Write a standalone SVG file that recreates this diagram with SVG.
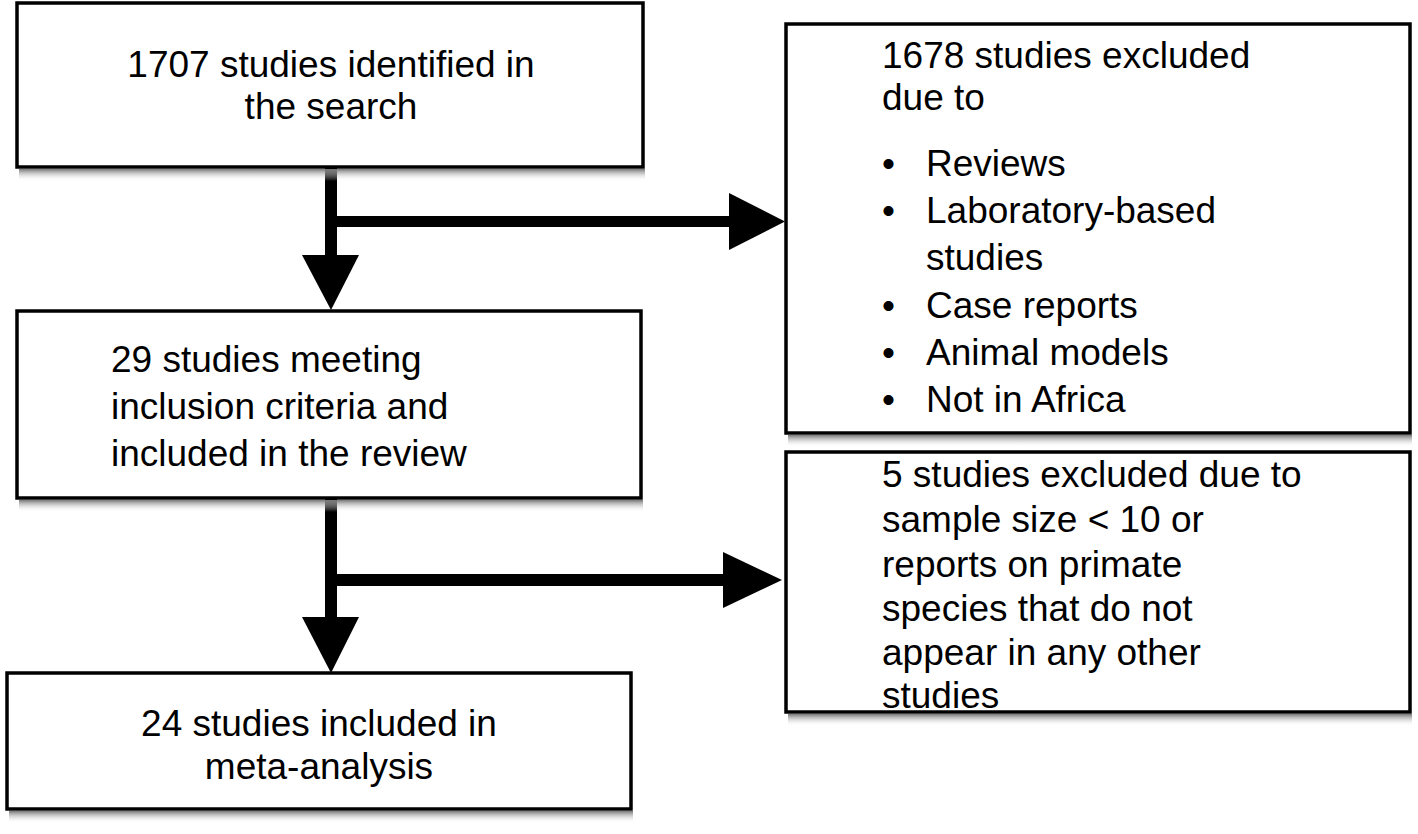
<svg xmlns="http://www.w3.org/2000/svg" width="1418" height="834" viewBox="0 0 1418 834">
<defs>
<linearGradient id="sg" x1="0" y1="0" x2="0" y2="1">
<stop offset="0" stop-color="#777"/>
<stop offset="1" stop-color="#fff" stop-opacity="0"/>
</linearGradient>
</defs>
<style>
.box{fill:#fff;stroke:#000;stroke-width:3.5}
.sh{fill:url(#sg);stroke:none}
.t{font-family:"Liberation Sans",Arial,sans-serif;font-size:37px;fill:#000}
.c{text-anchor:middle}
.ar{fill:#000;stroke:none}
</style>
<g id="connectors">
<rect class="ar" x="325" y="167" width="12" height="90"/>
<polygon class="ar" points="302,255 359,255 331,310"/>
<rect class="ar" x="337" y="216" width="394" height="11"/>
<polygon class="ar" points="729,193 729,250 785,221.5"/>
<rect class="ar" x="325" y="497" width="12" height="122"/>
<polygon class="ar" points="302,617 359,617 331,673"/>
<rect class="ar" x="337" y="574" width="388" height="12"/>
<polygon class="ar" points="723,552 723,608 782,580"/>
</g>
<g id="n1">
<rect class="sh" x="19" y="169" width="626" height="12"/>
<rect class="box" x="17" y="3" width="626" height="164"/>
<text class="t c" x="331" y="77">1707 studies identified in</text>
<text class="t c" x="331" y="119">the search</text>
</g>
<g id="n2">
<rect class="sh" x="788" y="435" width="624" height="12"/>
<rect class="box" x="786" y="24" width="624" height="409"/>
<text class="t" x="882" y="68">1678 studies excluded</text>
<text class="t" x="882" y="110">due to</text>
<text class="t" x="882" y="176">•</text><text class="t" x="926" y="176">Reviews</text>
<text class="t" x="882" y="223">•</text><text class="t" x="926" y="223">Laboratory-based</text>
<text class="t" x="926" y="270">studies</text>
<text class="t" x="882" y="318">•</text><text class="t" x="926" y="318">Case reports</text>
<text class="t" x="882" y="365">•</text><text class="t" x="926" y="365">Animal models</text>
<text class="t" x="882" y="412">•</text><text class="t" x="926" y="412">Not in Africa</text>
</g>
<g id="n3">
<rect class="sh" x="19" y="500" width="624" height="12"/>
<rect class="box" x="17" y="311" width="624" height="187"/>
<text class="t" x="111" y="372">29 studies meeting</text>
<text class="t" x="111" y="419">inclusion criteria and</text>
<text class="t" x="111" y="466">included in the review</text>
</g>
<g id="n4">
<rect class="sh" x="788" y="714" width="624" height="12"/>
<rect class="box" x="786" y="452" width="624" height="260"/>
<text class="t" x="882" y="487">5 studies excluded due to</text>
<text class="t" x="882" y="532">sample size &lt; 10 or</text>
<text class="t" x="882" y="577">reports on primate</text>
<text class="t" x="882" y="621">species that do not</text>
<text class="t" x="882" y="665">appear in any other</text>
<text class="t" x="882" y="708">studies</text>
</g>
<g id="n5">
<rect class="sh" x="9" y="811" width="624" height="12"/>
<rect class="box" x="7" y="673" width="624" height="136"/>
<text class="t c" x="319" y="736">24 studies included in</text>
<text class="t c" x="319" y="779">meta-analysis</text>
</g>
</svg>
